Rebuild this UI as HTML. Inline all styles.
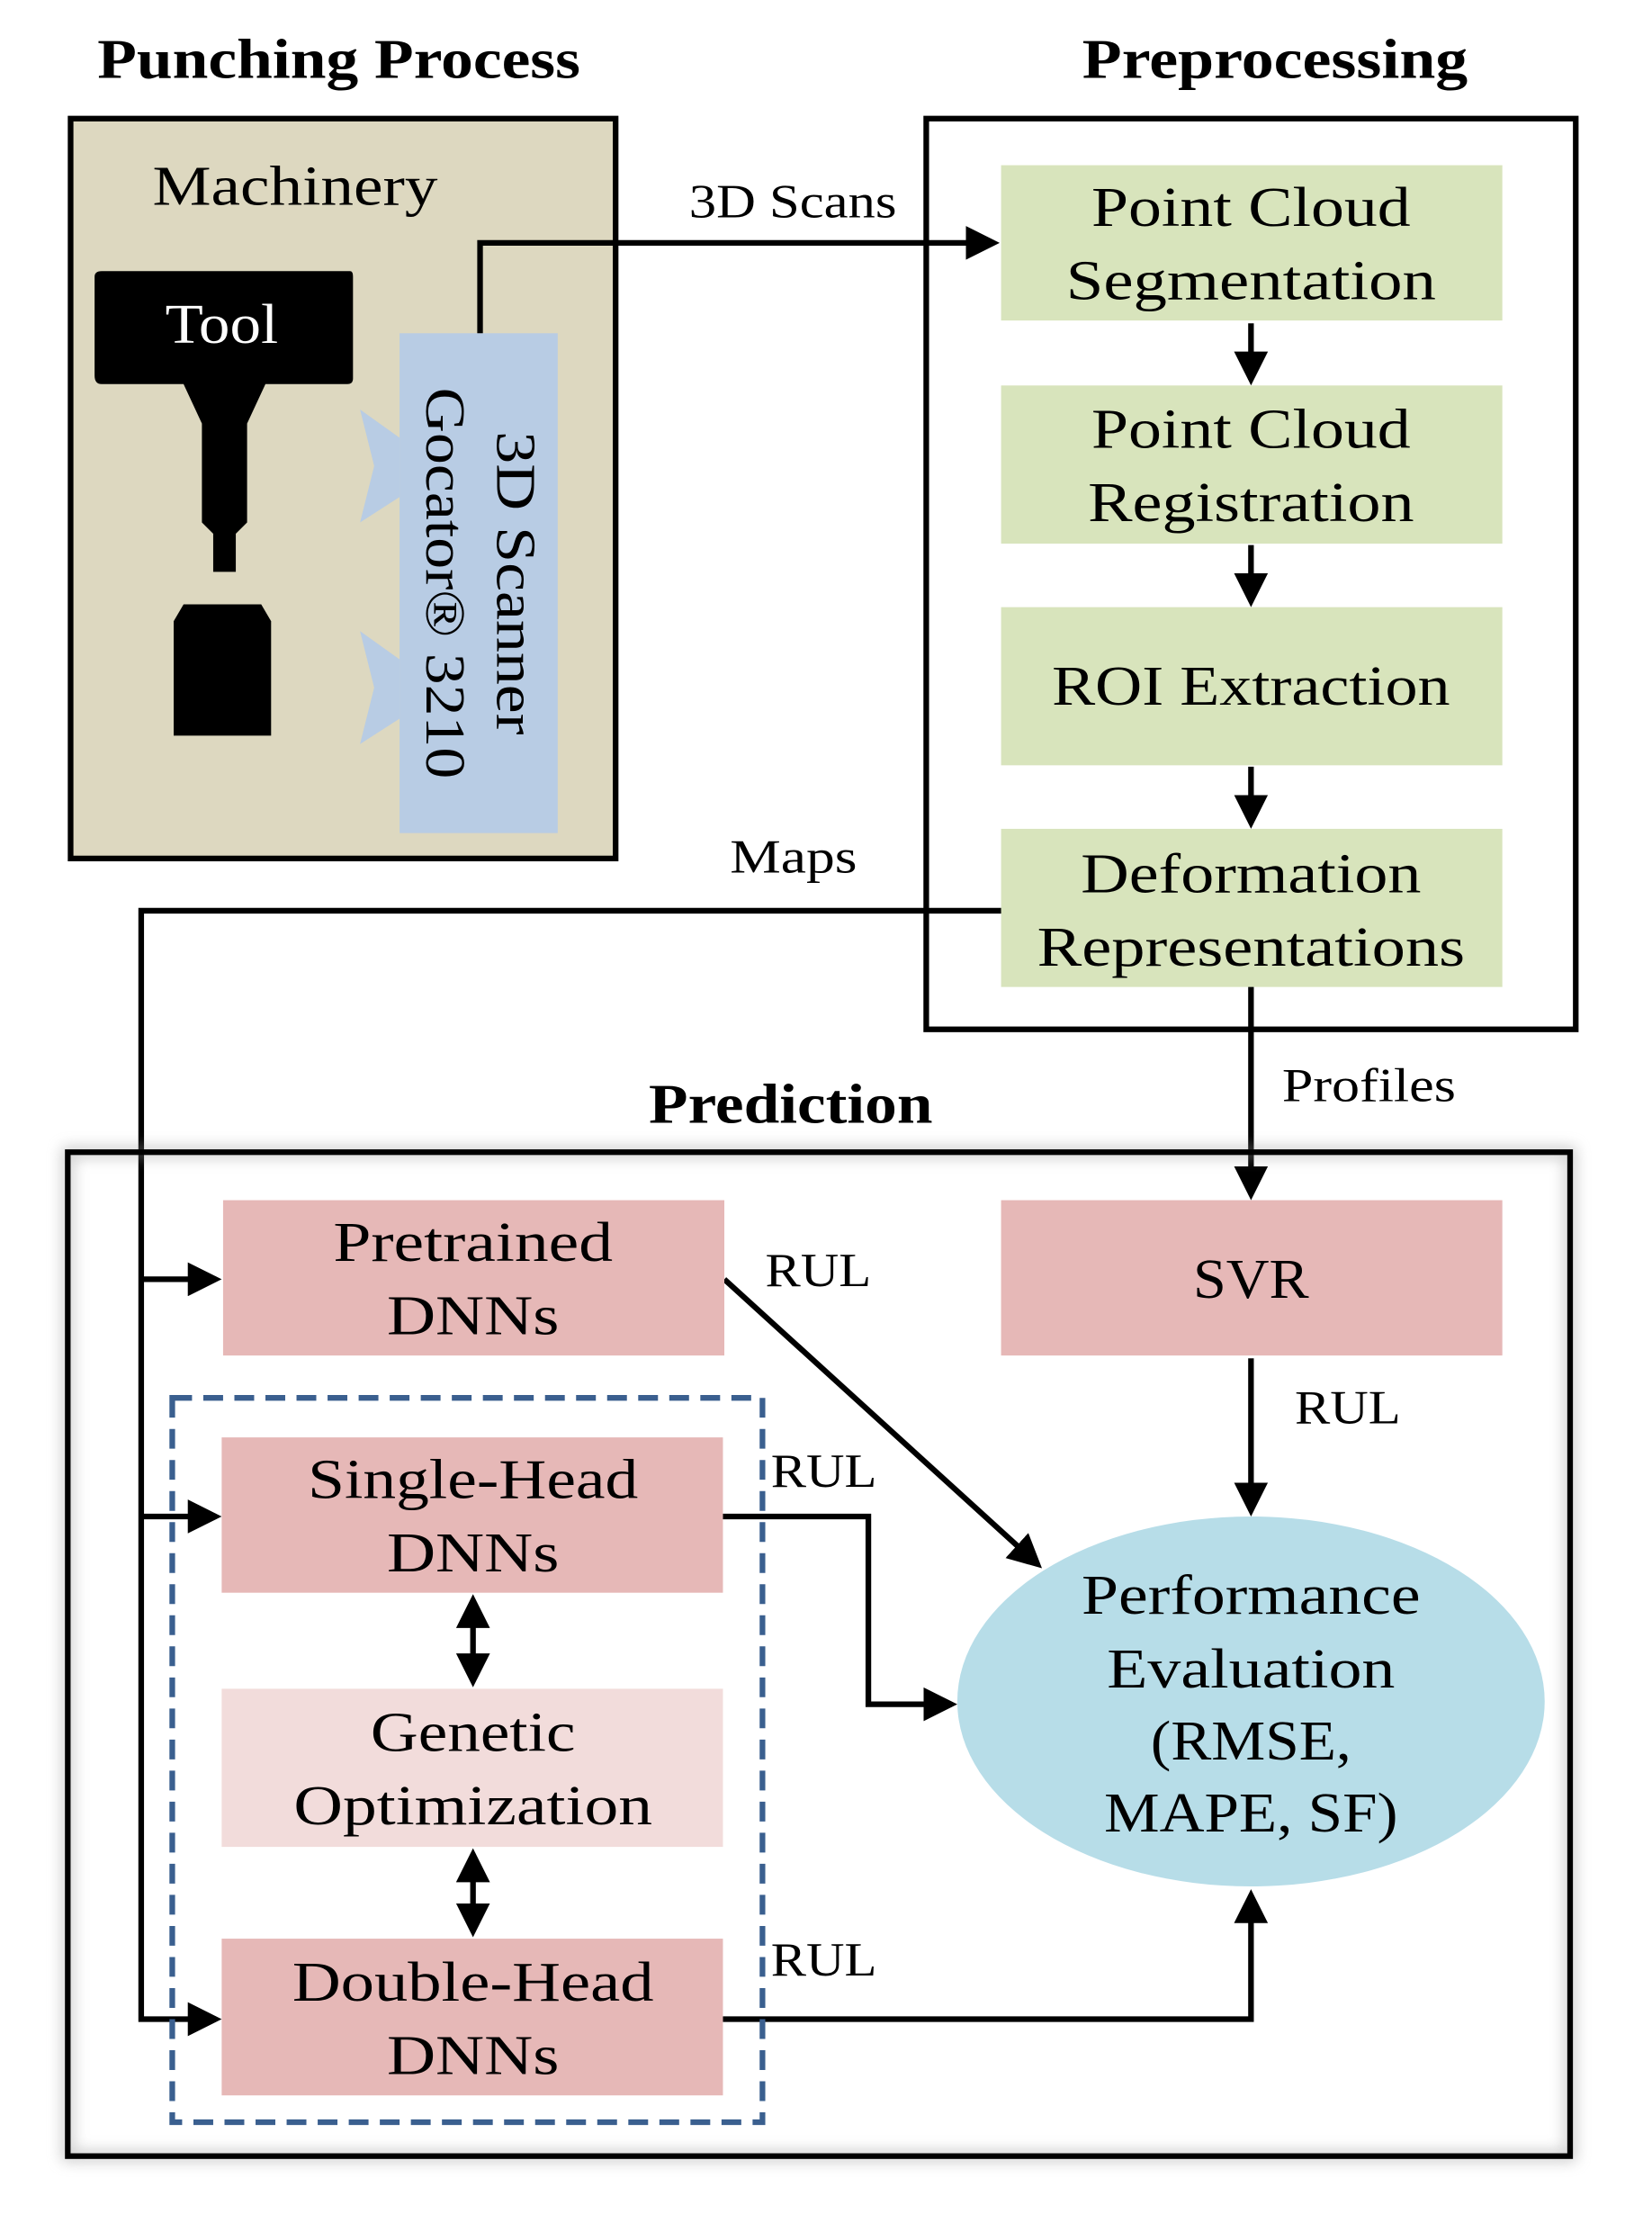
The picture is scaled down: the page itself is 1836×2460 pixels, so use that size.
<!DOCTYPE html>
<html><head><meta charset="utf-8"><style>
html,body{margin:0;padding:0;background:#fff}
svg{display:block}
text{font-family:"Liberation Serif",serif;fill:#000}
</style></head><body>
<svg width="1836" height="2460" viewBox="0 0 1170 1568" preserveAspectRatio="none" xmlns="http://www.w3.org/2000/svg">
<defs>
<marker id="a" markerWidth="6" markerHeight="6" refX="5" refY="3" orient="auto" markerUnits="strokeWidth"><path d="M0,0 L6,3 L0,6 z" fill="#000"/></marker>
<marker id="b" markerWidth="6" markerHeight="6" refX="1" refY="3" orient="auto" markerUnits="strokeWidth"><path d="M6,0 L0,3 L6,6 z" fill="#000"/></marker>
<filter id="sh" x="-5%" y="-5%" width="110%" height="110%"><feGaussianBlur stdDeviation="5"/></filter>
</defs>
<g lengthAdjust="spacingAndGlyphs">
<text x="240" y="55" font-size="40" font-weight="bold" text-anchor="middle" textLength="342" lengthAdjust="spacingAndGlyphs">Punching Process</text>
<text x="903" y="55" font-size="40" font-weight="bold" text-anchor="middle" textLength="273" lengthAdjust="spacingAndGlyphs">Preprocessing</text>
<text x="560" y="795" font-size="40" font-weight="bold" text-anchor="middle" textLength="201" lengthAdjust="spacingAndGlyphs">Prediction</text>
</g>

<rect x="50" y="84" width="386" height="524" fill="#ddd8c0" stroke="#000" stroke-width="4"/>
<text x="108" y="145" font-size="40" textLength="202" lengthAdjust="spacingAndGlyphs">Machinery</text>
<path d="M70,192 H248 Q250,192 250,196 V268 Q250,272 246,272 H188 L175,300 V370 L167,378 V405 H151 V378 L143,370 V300 L130,272 H72 Q67,272 67,266 V196 Q67,192 72,192 Z" fill="#000"/>
<text x="157" y="243" font-size="40" text-anchor="middle" style="fill:#fff" textLength="80" lengthAdjust="spacingAndGlyphs">Tool</text>
<path d="M130,428 H185 L192,440 V521 H123 V440 Z" fill="#000"/>
<path d="M255,290 L283,310 V352 L255,370 L265,330 Z" fill="#b8cce4"/>
<path d="M255,447 L283,467 V509 L255,527 L265,487 Z" fill="#b8cce4"/>
<rect x="283" y="236" width="112" height="354" fill="#b8cce4"/>
<text transform="translate(352,413) rotate(90)" font-size="40" text-anchor="middle" textLength="215" lengthAdjust="spacingAndGlyphs">3D Scanner</text>
<text transform="translate(302,413) rotate(90)" font-size="40" text-anchor="middle" textLength="277" lengthAdjust="spacingAndGlyphs">Gocator® 3210</text>

<rect x="656" y="84" width="460" height="645" fill="none" stroke="#000" stroke-width="4"/>
<g fill="#d8e4bc">
<rect x="709" y="117" width="355" height="110"/>
<rect x="709" y="273" width="355" height="112"/>
<rect x="709" y="430" width="355" height="112"/>
<rect x="709" y="587" width="355" height="112"/>
</g>
<g font-size="40" text-anchor="middle">
<text x="886" y="160" textLength="226" lengthAdjust="spacingAndGlyphs">Point Cloud</text><text x="886" y="212" textLength="262" lengthAdjust="spacingAndGlyphs">Segmentation</text>
<text x="886" y="317" textLength="226" lengthAdjust="spacingAndGlyphs">Point Cloud</text><text x="886" y="369" textLength="231" lengthAdjust="spacingAndGlyphs">Registration</text>
<text x="886" y="499" textLength="282" lengthAdjust="spacingAndGlyphs">ROI Extraction</text>
<text x="886" y="632" textLength="241" lengthAdjust="spacingAndGlyphs">Deformation</text><text x="886" y="684" textLength="303" lengthAdjust="spacingAndGlyphs">Representations</text>
</g>
<g stroke="#000" stroke-width="4" fill="none" marker-end="url(#a)">
<path d="M886,229 V269"/><path d="M886,386 V426"/><path d="M886,543 V583"/>
<path d="M340,236 V172 H704"/>
<path d="M886,699 V846"/>
<path d="M709,645 H100 V1430 H153"/>
<path d="M100,906 H153"/><path d="M100,1074 H153"/>
<path d="M513,906 L735,1108"/>
<path d="M512,1074 H615 V1207 H674"/>
<path d="M886,962 V1070"/>
<path d="M512,1430 H886 V1342"/>
</g>
<text x="488" y="154" font-size="34" textLength="147" lengthAdjust="spacingAndGlyphs">3D Scans</text>
<text x="562" y="618" font-size="34" text-anchor="middle" textLength="90" lengthAdjust="spacingAndGlyphs">Maps</text>
<text x="908" y="780" font-size="34" textLength="123" lengthAdjust="spacingAndGlyphs">Profiles</text>

<rect x="48" y="816" width="1064" height="711" fill="none" stroke="#999" stroke-width="8" filter="url(#sh)" opacity="0.5"/>
<rect x="48" y="816" width="1064" height="711" fill="none" stroke="#000" stroke-width="4"/>
<g fill="#e6b8b7">
<rect x="158" y="850" width="355" height="110"/>
<rect x="709" y="850" width="355" height="110"/>
<rect x="157" y="1018" width="355" height="110"/>
<rect x="157" y="1373" width="355" height="111"/>
</g>
<rect x="157" y="1196" width="355" height="112" fill="#f2dcdb"/>
<rect x="122" y="990" width="418" height="513" fill="none" stroke="#3a5f8f" stroke-width="4" stroke-dasharray="14,8"/>
<ellipse cx="886" cy="1205" rx="208" ry="131" fill="#b7dde8"/>
<g font-size="40" text-anchor="middle">
<text x="335" y="893" textLength="198" lengthAdjust="spacingAndGlyphs">Pretrained</text><text x="335" y="945" textLength="122" lengthAdjust="spacingAndGlyphs">DNNs</text>
<text x="886" y="919" textLength="82" lengthAdjust="spacingAndGlyphs">SVR</text>
<text x="335" y="1061" textLength="234" lengthAdjust="spacingAndGlyphs">Single-Head</text><text x="335" y="1113" textLength="122" lengthAdjust="spacingAndGlyphs">DNNs</text>
<text x="335" y="1240" textLength="145" lengthAdjust="spacingAndGlyphs">Genetic</text><text x="335" y="1292" textLength="254" lengthAdjust="spacingAndGlyphs">Optimization</text>
<text x="335" y="1417" textLength="256" lengthAdjust="spacingAndGlyphs">Double-Head</text><text x="335" y="1469" textLength="122" lengthAdjust="spacingAndGlyphs">DNNs</text>
<text x="886" y="1143" textLength="240" lengthAdjust="spacingAndGlyphs">Performance</text><text x="886" y="1195" textLength="204" lengthAdjust="spacingAndGlyphs">Evaluation</text>
<text x="886" y="1246" textLength="142" lengthAdjust="spacingAndGlyphs">(RMSE,</text><text x="886" y="1297" textLength="208" lengthAdjust="spacingAndGlyphs">MAPE, SF)</text>
</g>
<g stroke="#000" stroke-width="4" fill="none" marker-end="url(#a)" marker-start="url(#b)">
<path d="M335,1133 V1191"/><path d="M335,1313 V1368"/>
</g>
<g font-size="34">
<text x="542" y="911" textLength="75" lengthAdjust="spacingAndGlyphs">RUL</text>
<text x="917" y="1008" textLength="75" lengthAdjust="spacingAndGlyphs">RUL</text>
<text x="546" y="1053" textLength="75" lengthAdjust="spacingAndGlyphs">RUL</text>
<text x="546" y="1399" textLength="75" lengthAdjust="spacingAndGlyphs">RUL</text>
</g>
</svg>
</body></html>
